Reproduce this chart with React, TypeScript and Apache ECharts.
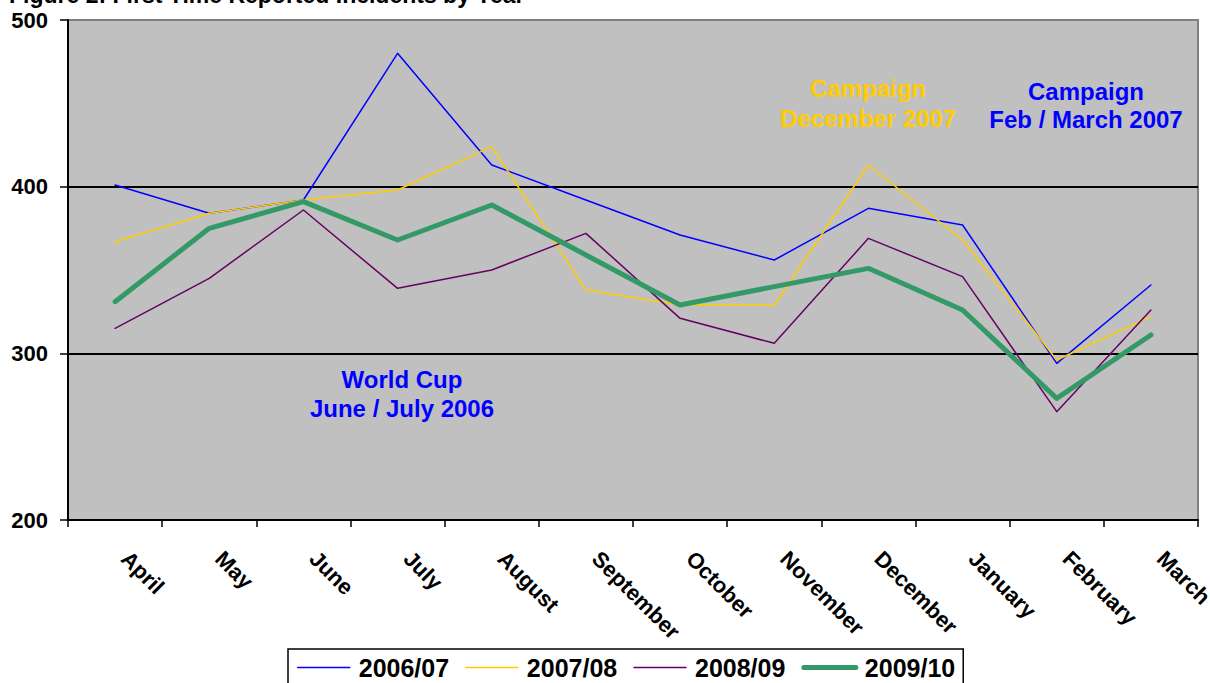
import React, { useEffect, useRef } from "react";
import * as echarts from "echarts";

const months = ["April", "May", "June", "July", "August", "September", "October", "November", "December", "January", "February", "March"];
const seriesNames = ["2006/07", "2007/08", "2008/09", "2009/10"];
const values0607 = [401, 384, 392, 480, 413, 392, 371, 356, 387, 377, 294, 341];
const values0708 = [367, 384, 392, 398, 424, 338, 329, 329, 413, 368, 296, 322];
const values0809 = [315, 345, 386, 339, 350, 372, 321, 306, 369, 346, 265, 326];
const values0910 = [331, 375, 391, 368, 389, 359, 329, 340, 351, 326, 273, 311];
const seriesColors = ["#0000FF", "#FFCC00", "#660066", "#339966"];
const seriesWidths = [1.5, 1.5, 1.5, 5];
const yTicks = { min: 200, max: 500, interval: 100 };
const titleText = "Figure 2: First Time Reported Incidents by Year";
const annotations = [
  { lines: ["World Cup", "June / July 2006"], color: "#0000FF", x: 402, y: [379, 408] },
  { lines: ["Campaign", "December 2007"], color: "#FFCC00", x: 868, y: [88, 118] },
  { lines: ["Campaign", "Feb / March 2007"], color: "#0000FF", x: 1086, y: [91, 119] },
];

const FONT = "'Liberation Sans', Arial, Helvetica, sans-serif";

export default function App() {
  const ref = useRef<HTMLDivElement>(null);
  useEffect(() => {
    if (!ref.current) return;
    const chart = echarts.init(ref.current, null, { renderer: "svg" });
    const allValues = [values0607, values0708, values0809, values0910];
    const graphics: any[] = [
      {
        type: "text",
        x: 9,
        y: -5,
        style: {
          text: titleText,
          font: `bold 23px ${FONT}`,
          fill: "#000",
          textAlign: "left",
          textVerticalAlign: "middle",
        },
        z: 100,
      },
    ];
    annotations.forEach((a) => {
      a.lines.forEach((line, i) => {
        graphics.push({
          type: "text",
          x: a.x,
          y: a.y[i],
          style: {
            text: line,
            font: `bold 24px ${FONT}`,
            fill: a.color,
            textAlign: "center",
            textVerticalAlign: "middle",
          },
          z: 100,
        });
      });
    });
    chart.setOption({
      animation: false,
      textStyle: { fontFamily: FONT },
      grid: {
        left: 68,
        top: 20,
        right: 12,
        bottom: 163,
        show: true,
        backgroundColor: "#C0C0C0",
        borderColor: "#808080",
        borderWidth: 2,
        containLabel: false,
        outerBoundsMode: "none",
      },
      legend: {
        left: 288,
        top: 649,
        orient: "horizontal",
        data: seriesNames.map((name, i) => ({
          name,
          lineStyle: { width: seriesWidths[i] === 5 ? 5 : 1.5, color: seriesColors[i], cap: "round" },
        })),
        itemWidth: 52,
        itemHeight: 14,
        itemGap: 16,
        padding: [6, 8, 12, 9],
        borderColor: "#000",
        borderWidth: 1.5,
        itemStyle: { opacity: 0, borderWidth: 0 },
        textStyle: { fontSize: 25, fontWeight: "bold", color: "#000", fontFamily: FONT, padding: [0, 0, 0, 4] },
      },
      xAxis: {
        type: "category",
        data: months,
        boundaryGap: true,
        axisLine: { show: true, lineStyle: { color: "#000", width: 2 } },
        axisTick: { show: true, length: 7, lineStyle: { color: "#000", width: 1.5 } },
        axisLabel: {
          interval: 0,
          rotate: -45,
          margin: 25,
          padding: [0, 0, 0, 14],
          fontSize: 22,
          fontWeight: "bold",
          color: "#000",
          fontFamily: FONT,
        },
        splitLine: { show: false },
      },
      yAxis: {
        type: "value",
        min: yTicks.min,
        max: yTicks.max,
        interval: yTicks.interval,
        axisLine: { show: true, lineStyle: { color: "#000", width: 2 } },
        axisTick: { show: true, length: 8, lineStyle: { color: "#000", width: 1.5 } },
        axisLabel: { margin: 20, fontSize: 22, fontWeight: "bold", color: "#000", fontFamily: FONT },
        splitLine: { show: true, lineStyle: { color: ["#000", "#000", "#000", "#808080"], width: 2 } },
      },
      series: seriesNames.map((name, i) => ({
        name,
        type: "line",
        data: allValues[i],
        symbol: "none",
        showSymbol: false,
        lineStyle: { color: seriesColors[i], width: seriesWidths[i], cap: "round", join: "round" },
        itemStyle: { color: seriesColors[i] },
        z: 2 + i,
      })),
      graphic: graphics,
    });
    return () => chart.dispose();
  }, []);
  return <div ref={ref} style={{ position: "absolute", left: 0, top: 0, width: 1210, height: 683 }} />;
}
